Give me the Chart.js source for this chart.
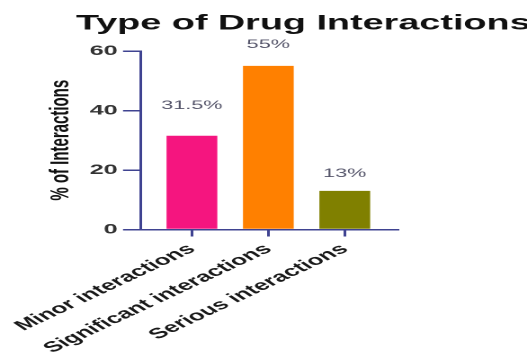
<!DOCTYPE html>
<html>
<head>
<meta charset="utf-8">
<script src="https://cdn.jsdelivr.net/npm/chart.js@4.4.1/dist/chart.umd.min.js"></script>
<style>
  html, body { margin: 0; padding: 0; background: #fff; }
</style>
</head>
<body>
<!-- the reference is a narrow chart stretched sideways, so draw narrow and stretch -->
<canvas id="chart" width="293" height="356" style="display:block;width:527px;height:356px"></canvas>
<script>
const categories = ["Minor interactions", "Significant interactions", "Serious interactions"];
const percentValues = [31.5, 55, 13];
const valueLabels = ["31.5%", "55%", "13%"];
const yTicks = [0, 20, 40, 60];
const chartTitle = "Type of Drug Interactions";

const barColors = ["#f5157f", "#ff8000", "#808000"];
const axisColor = "#3f4391";
const FONT = "'Liberation Sans', Arial, sans-serif";

const valueLabelPlugin = {
  id: "valueLabels",
  afterDatasetsDraw(chart, args, opts) {
    const ctx = chart.ctx;
    const meta = chart.getDatasetMeta(0);
    ctx.save();
    ctx.font = `12px ${FONT}`;
    ctx.fillStyle = "#55556a";
    ctx.textAlign = "center";
    ctx.textBaseline = "middle";
    meta.data.forEach((bar, i) => {
      ctx.fillText(valueLabels[i], bar.x, bar.y - opts.offsets[i]);
    });
    ctx.restore();
  },
};

// title hugs the right edge of the canvas
const titlePlugin = {
  id: "edgeTitle",
  afterDraw(chart, args, opts) {
    const ctx = chart.ctx;
    ctx.save();
    ctx.font = `bold ${opts.size}px ${FONT}`;
    ctx.fillStyle = "#111";
    ctx.textAlign = "right";
    ctx.textBaseline = "alphabetic";
    ctx.fillText(chartTitle, chart.width - opts.right, opts.baseline);
    ctx.restore();
  },
};

const ctx = document.getElementById("chart").getContext("2d");
const chart = new Chart(ctx, {
  type: "bar",
  data: {
    labels: categories,
    datasets: [
      {
        data: percentValues.map((v, i) => ({ x: i, y: v })),
        backgroundColor: barColors,
        borderWidth: 0,
        barPercentage: 0.83,
        categoryPercentage: 0.8,
      },
    ],
  },
  options: {
    responsive: false,
    animation: false,
    devicePixelRatio: 2,
    layout: { padding: { top: 51, left: 0, right: 0, bottom: 0 } },
    plugins: {
      legend: { display: false },
      tooltip: { enabled: false },
      title: { display: false },
      edgeTitle: { size: 21, baseline: 29.5, right: -2 },
      valueLabels: { offsets: [30, 21, 17] },
    },
    scales: {
      x: {
        type: "linear",
        min: -0.666,
        max: 2.69,
        offset: false,
        afterBuildTicks: (scale) => {
          scale.ticks = categories.map((_, i) => ({ value: i }));
        },
        afterFit: (scale) => {
          scale.height = 126.5;
          // labels may hang off the left edge, like in the original
          scale.paddingLeft = 0;
          scale.paddingRight = 0;
        },
        grid: {
          offset: false,
          drawOnChartArea: false,
          drawTicks: true,
          tickLength: 7,
          color: axisColor,
          lineWidth: 1.5,
        },
        border: { color: axisColor, width: 1.5 },
        ticks: {
          autoSkip: false,
          minRotation: 40,
          maxRotation: 40,
          padding: 4,
          color: "#1a1a1a",
          font: { family: FONT, size: 14.5, weight: "bold" },
          callback: (value) => categories[value],
        },
      },
      y: {
        min: 0,
        max: 60,
        afterBuildTicks: (scale) => {
          scale.ticks = yTicks.map((v) => ({ value: v }));
        },
        afterFit: (scale) => {
          scale.width = 78.4;
          scale.paddingTop = 0;
        },
        grid: {
          drawOnChartArea: false,
          drawTicks: true,
          tickLength: 10,
          color: axisColor,
          lineWidth: 1.5,
        },
        border: { color: axisColor, width: 1.5 },
        ticks: {
          padding: 3,
          color: "#333",
          font: { family: FONT, size: 14, weight: "bold" },
        },
        title: {
          display: true,
          text: "% of Interactions",
          color: "#111",
          font: { family: FONT, size: 15, weight: "bold" },
          padding: { top: 25, bottom: 0 },
        },
      },
      // empty right axis only reserves the blank strip on the right
      yRight: {
        position: "right",
        min: 0,
        max: 60,
        afterFit: (scale) => {
          scale.width = 72;
        },
        grid: { display: false },
        border: { display: false },
        ticks: { display: false },
      },
    },
  },
  plugins: [valueLabelPlugin, titlePlugin],
});
</script>
</body>
</html>
